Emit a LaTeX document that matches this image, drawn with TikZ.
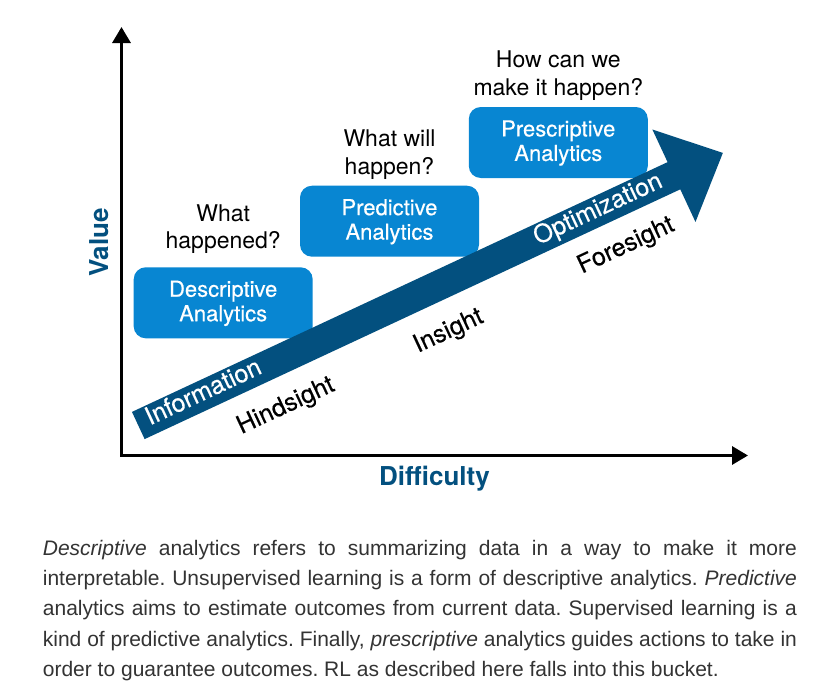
\documentclass[tikz,border=0pt]{standalone}
\usepackage{fontspec}
\setmainfont{Liberation Sans}
\newfontfamily\heros{TeX Gyre Heros}
\newfontfamily\herosmedium[FakeBold = 0.4]{TeX Gyre Heros}
\usepackage{tikz}
\usetikzlibrary{positioning,arrows.meta}
\definecolor{boxblue}{RGB}{8,134,210}
\definecolor{arrowblue}{RGB}{3,80,127}
\definecolor{captiongray}{RGB}{51,51,51}
\frenchspacing

\begin{document}
\begin{tikzpicture}[x = 1pt, y = -1pt,
    analytics/.style = {fill = boxblue, text = white, rounded corners = 12pt, minimum width = 179pt, minimum height = 71pt, inner sep = 0pt, align = center, font = \herosmedium\fontsize{22}{24.5}\selectfont},
    question/.style = {inner sep = 0pt, align = center, font = \heros\fontsize{23}{27.7}\selectfont},
    trend/.style = {anchor = base, inner sep = 0pt, transform shape, font = \herosmedium\fontsize{25}{28}\selectfont},
    axislabel/.style = {text = arrowblue, inner sep = 0pt, font = \heros\bfseries\fontsize{26}{30}\selectfont},
    axistip/.style = {Triangle[length = 16pt, width = 18pt]}]
    \fill[white] (0,0) rectangle (831,699);
    \coordinate (O) at (121.5,455.5);
    \coordinate (ytop) at (121.5,27);
    \coordinate (xend) at (748,455.5);
    \draw[{Triangle[length = 16pt, width = 18pt]}-{Triangle[length = 16pt, width = 18pt]}, line width = 3.2pt, line join = miter] (ytop) -- (O) -- (xend);
    \node[axislabel, rotate = 90] (value) at (99.5,242.5) {Value};
    \node[axislabel] (difficulty) at (434.5,478.5) {Difficulty};

    \node[analytics] (desc) at (223.2,302.8) {\strut Descriptive\\Analytics};
    \node[analytics] (pred) at (389.5,221.2) {\strut Predictive\\Analytics};
    \node[analytics] (presc) at (558.3,142.5) {\strut Prescriptive\\Analytics};
    \node[question, above = 13pt of desc] (whathappened) {What\\happened?};
    \node[question, above = 6pt of pred] (whatwill) {What will\\happen?};
    \node[question, above = 6pt of presc] (howcan) {How can we\\make it happen?};

    \begin{scope}[shift = {(138.3,425.5)}, rotate = 25]
        \fill[arrowblue] (0,-15) -- (591,-15) -- (591,-51) -- (645,0) -- (591,51) -- (591,15) -- (0,15) -- cycle;
        \node[trend, text = white] (information) at (73,5) {Information};
        \node[trend, text = white] (optimization) at (508,5.5) {Optimization};
        \node[trend] (hindsight) at (142,51.5) {Hindsight};
        \node[trend] (insight) at (321,52.5) {Insight};
        \node[trend] (foresight) at (518,50) {Foresight};
    \end{scope}

    \node[anchor = north west, text width = 754pt, align = justify, inner sep = 0pt, text = captiongray, font = \fontsize{21}{30.4}\selectfont] (caption) at (42.7,539.7) {\textit{Descriptive} analytics refers to summarizing data in a way to make it more\linebreak interpretable. Unsupervised learning is a form of descriptive analytics. \textit{Predictive}\linebreak analytics aims to estimate outcomes from current data. Supervised learning is a\linebreak kind of predictive analytics. Finally, \textit{prescriptive} analytics guides actions to take in\linebreak order to guarantee outcomes. RL as described here falls into this bucket.};
\end{tikzpicture}
\end{document}
